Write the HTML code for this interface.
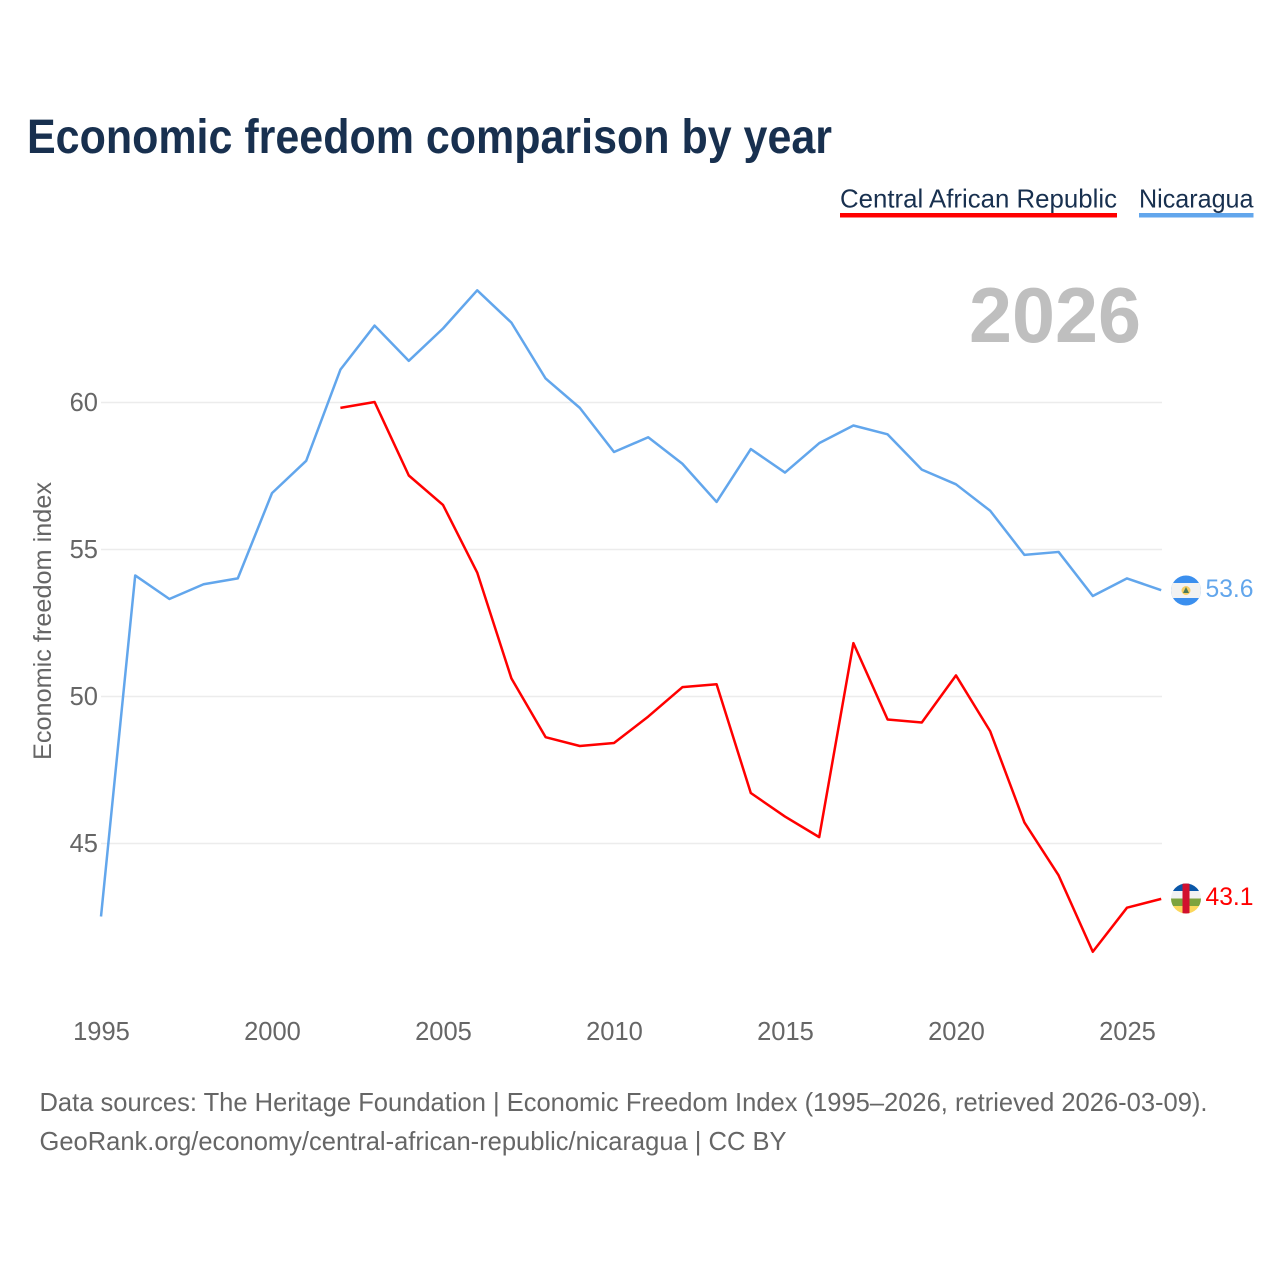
<!DOCTYPE html>
<html>
<head>
<meta charset="utf-8">
<title>Economic freedom comparison by year</title>
<style>
html,body{margin:0;padding:0;background:#fff;}
svg{display:block;}
text{font-family:"Liberation Sans",sans-serif;}
</style>
</head>
<body>
<svg id="chart" xmlns="http://www.w3.org/2000/svg" width="1280" height="1280" viewBox="0 0 1280 1280">
  <rect width="1280" height="1280" fill="#ffffff"/>
  <text x="27" y="153" font-size="48" font-weight="700" fill="#18304f" textLength="805" lengthAdjust="spacingAndGlyphs">Economic freedom comparison by year</text>
  <g>
    <text x="840" y="207.5" font-size="26" fill="#18304f" textLength="277" lengthAdjust="spacingAndGlyphs">Central African Republic</text>
    <rect x="840" y="213" width="277" height="4.5" fill="#ff0000"/>
  </g>
  <g>
    <text x="1139" y="207.5" font-size="26" fill="#18304f" textLength="114.5" lengthAdjust="spacingAndGlyphs">Nicaragua</text>
    <rect x="1139" y="213" width="114.5" height="4.5" fill="#62a6ec"/>
  </g>
  <text x="969" y="342" font-size="78" font-weight="700" fill="#bfbfbf" textLength="172" lengthAdjust="spacingAndGlyphs">2026</text>
  <text transform="translate(51,760) rotate(-90)" font-size="25" fill="#666666" textLength="278" lengthAdjust="spacingAndGlyphs">Economic freedom index</text>
  <g id="grid"></g>
  <g id="yticks"></g>
  <g id="xticks"></g>
  <g id="series"></g>
  <defs>
    <clipPath id="clip-nic"><circle cx="1186" cy="590.5" r="15"/></clipPath>
    <clipPath id="clip-car"><circle cx="1186" cy="898.5" r="15"/></clipPath>
  </defs>
  <g>
    <circle cx="1186" cy="590.5" r="17" fill="#ffffff"/>
    <g clip-path="url(#clip-nic)">
      <rect x="1171" y="575" width="30" height="31" fill="#3b8fee"/>
      <rect x="1171" y="583" width="30" height="15" fill="#f2f2f2"/>
      <circle cx="1186" cy="590.5" r="4.5" fill="#f7cf63"/>
      <path d="M1183 593 L1186 587 L1189 593 Z" fill="#4a7a5a"/>
    </g>
  </g>
  <g>
    <circle cx="1186" cy="898.5" r="17" fill="#ffffff"/>
    <g clip-path="url(#clip-car)">
      <rect x="1171" y="883" width="30" height="8" fill="#0a57a8"/>
      <rect x="1171" y="891" width="30" height="7.5" fill="#f2f2f2"/>
      <rect x="1171" y="898.5" width="30" height="7.5" fill="#7da33d"/>
      <rect x="1171" y="906" width="30" height="8" fill="#fbd75b"/>
      <rect x="1182.5" y="883" width="7" height="31" fill="#d2102e"/>
    </g>
  </g>
  <text id="end-nic" x="1205.5" y="597" font-size="25" fill="#62a6ec" textLength="48" lengthAdjust="spacingAndGlyphs"></text>
  <text id="end-car" x="1205.5" y="905" font-size="25" fill="#ff0000" textLength="48" lengthAdjust="spacingAndGlyphs"></text>
  <text x="39.5" y="1111" font-size="26" fill="#666666" textLength="1168" lengthAdjust="spacingAndGlyphs">Data sources: The Heritage Foundation | Economic Freedom Index (1995–2026, retrieved 2026-03-09).</text>
  <text x="39.5" y="1150" font-size="26" fill="#666666" textLength="747" lengthAdjust="spacingAndGlyphs">GeoRank.org/economy/central-african-republic/nicaragua | CC BY</text>
</svg>
<script>
var startYear = 1995;
var xTickYears = [1995, 2000, 2005, 2010, 2015, 2020, 2025];
var yTickValues = [45, 50, 55, 60];
var nicaraguaValues = [42.5, 54.1, 53.3, 53.8, 54.0, 56.9, 58.0, 61.1, 62.6, 61.4, 62.5, 63.8, 62.7, 60.8, 59.8, 58.3, 58.8, 57.9, 56.6, 58.4, 57.6, 58.6, 59.2, 58.9, 57.7, 57.2, 56.3, 54.8, 54.9, 53.4, 54.0, 53.6];
var carValues = [null, null, null, null, null, null, null, 59.8, 60.0, 57.5, 56.5, 54.2, 50.6, 48.6, 48.3, 48.4, 49.3, 50.3, 50.4, 46.7, 45.9, 45.2, 51.8, 49.2, 49.1, 50.7, 48.8, 45.7, 43.9, 41.3, 42.8, 43.1];

var NS = 'http://www.w3.org/2000/svg';
function xScale(year) { return 101 + (year - 1995) * 34.2; }
function yScale(v) { return 402 + (60 - v) * 29.4; }

var gridG = document.getElementById('grid');
var yG = document.getElementById('yticks');
yTickValues.forEach(function (v) {
  var ln = document.createElementNS(NS, 'line');
  
  
  ln.setAttribute('x1', 101);
  ln.setAttribute('x2', 1162);
  ln.setAttribute('y1', yScale(v) + 0.5);
  ln.setAttribute('y2', yScale(v) + 0.5);
  ln.setAttribute('stroke', '#ececec');
  ln.setAttribute('stroke-width', '1.5');
  gridG.appendChild(ln);
  var t = document.createElementNS(NS, 'text');
  
  
  t.setAttribute('x', 98);
  t.setAttribute('y', yScale(v) + 9);
  t.setAttribute('text-anchor', 'end');
  t.setAttribute('font-size', '25.5');
  t.setAttribute('fill', '#666666');
  t.textContent = v;
  yG.appendChild(t);
});

var xG = document.getElementById('xticks');
xTickYears.forEach(function (yr) {
  var t = document.createElementNS(NS, 'text');
  
  
  t.setAttribute('x', xScale(yr) + 0.5);
  t.setAttribute('y', 1040);
  t.setAttribute('text-anchor', 'middle');
  t.setAttribute('font-size', '25.5');
  t.setAttribute('fill', '#666666');
  t.textContent = yr;
  xG.appendChild(t);
});

function seriesPath(values) {
  var d = '';
  values.forEach(function (v, i) {
    if (v === null) return;
    d += (d ? 'L' : 'M') + xScale(startYear + i).toFixed(2) + ' ' + yScale(v).toFixed(2);
  });
  return d;
}
var seriesG = document.getElementById('series');

var nicLine = document.createElementNS(NS, 'path');


nicLine.setAttribute('d', seriesPath(nicaraguaValues));
nicLine.setAttribute('fill', 'none');
nicLine.setAttribute('stroke', '#62a6ec');
nicLine.setAttribute('stroke-width', '2.5');
nicLine.setAttribute('stroke-linejoin', 'round');
seriesG.appendChild(nicLine);

var carLine = document.createElementNS(NS, 'path');


carLine.setAttribute('d', seriesPath(carValues));
carLine.setAttribute('fill', 'none');
carLine.setAttribute('stroke', '#ff0000');
carLine.setAttribute('stroke-width', '2.5');
carLine.setAttribute('stroke-linejoin', 'round');
seriesG.appendChild(carLine);

document.getElementById('end-nic').textContent = nicaraguaValues[nicaraguaValues.length - 1].toFixed(1);
document.getElementById('end-car').textContent = carValues[carValues.length - 1].toFixed(1);
</script>
</body>
</html>
